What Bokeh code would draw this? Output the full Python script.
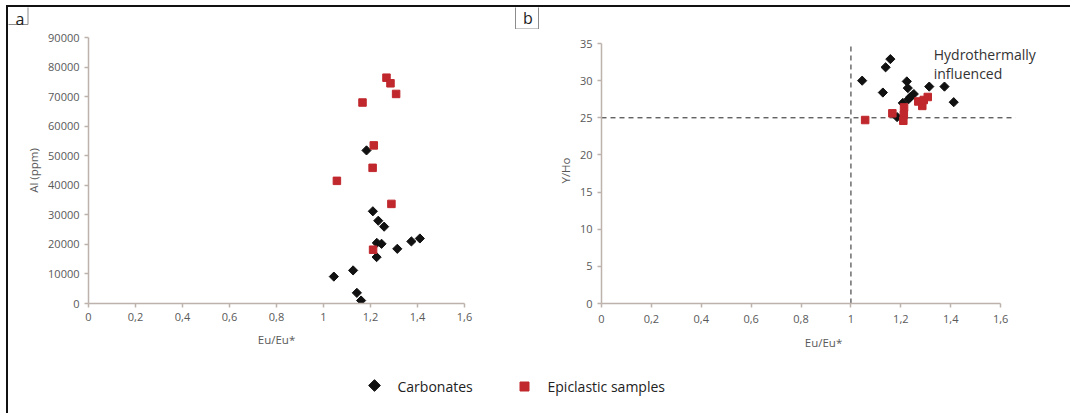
from math import pi
from bokeh.plotting import figure
from bokeh.models import FixedTicker, Label, Range1d
from bokeh.layouts import row, column
from bokeh.embed import file_html
from bokeh.resources import INLINE
from bokeh.core.properties import value

# ---------------- data ----------------
eu_ticks = [0, 0.2, 0.4, 0.6, 0.8, 1.0, 1.2, 1.4, 1.6]
eu_tick_labels = ["0", "0,2", "0,4", "0,6", "0,8", "1", "1,2", "1,4", "1,6"]
al_ticks = [0, 10000, 20000, 30000, 40000, 50000, 60000, 70000, 80000, 90000]
al_tick_labels = ["0", "10000", "20000", "30000", "40000", "50000", "60000", "70000", "80000", "90000"]
yho_ticks = [0, 5, 10, 15, 20, 25, 30, 35]
yho_tick_labels = ["0", "5", "10", "15", "20", "25", "30", "35"]

legend_labels = ["Carbonates", "Epiclastic samples"]
panel_letters = ["a", "b"]

# panel a : Al (ppm) vs Eu/Eu*
carb_a_eu = [1.183, 1.210, 1.233, 1.258, 1.227, 1.247, 1.314, 1.374, 1.410, 1.226, 1.126, 1.044, 1.142, 1.160]
carb_a_al = [51800, 31200, 28000, 26000, 20500, 20200, 18500, 21000, 22000, 15700, 11200, 9100, 3600, 1000]
epi_a_eu = [1.268, 1.285, 1.309, 1.166, 1.214, 1.209, 1.057, 1.289, 1.211]
epi_a_al = [76400, 74500, 70900, 68000, 53500, 45900, 41500, 33700, 18200]

# panel b : Y/Ho vs Eu/Eu*
carb_b_eu = [1.045, 1.158, 1.139, 1.128, 1.224, 1.228, 1.314, 1.375, 1.412, 1.252, 1.238, 1.231, 1.208, 1.185]
carb_b_yho = [30.0, 32.9, 31.8, 28.4, 29.9, 29.0, 29.2, 29.2, 27.1, 28.2, 27.8, 27.5, 27.0, 25.1]
epi_b_eu = [1.057, 1.166, 1.213, 1.212, 1.210, 1.270, 1.286, 1.292, 1.308]
epi_b_yho = [24.7, 25.6, 26.4, 25.4, 24.6, 27.2, 26.6, 27.4, 27.8]

eu_threshold = 1.0        # vertical dashed reference line
yho_threshold = 25.0      # horizontal dashed reference line
yho_max = 35.0
eu_line_end = 1.66

# ---------------- style ----------------
AXC = "#BDB3AC"
TXT = "#595959"
FONT = "Open Sans"
CARB_C = "#111111"
EPI_C = "#C0282D"
BOXC = "#8c8c8c"
TOTAL_W = 1062


def style(p):
    p.grid.visible = False
    p.outline_line_color = None
    p.background_fill_color = "white"
    p.border_fill_color = "white"
    for ax in p.axis:
        ax.axis_line_color = AXC
        ax.axis_line_width = 1.5
        ax.major_tick_line_color = AXC
        ax.major_tick_line_width = 1.5
        ax.major_tick_out = 4
        ax.major_tick_in = 0
        ax.minor_tick_out = 0
        ax.minor_tick_in = 0
        ax.major_label_text_font = FONT
        ax.major_label_text_font_size = "11px"
        ax.major_label_text_color = TXT
        ax.major_label_standoff = 5
        ax.axis_label_text_font = FONT
        ax.axis_label_text_font_size = "11.5px"
        ax.axis_label_text_font_style = "normal"
        ax.axis_label_text_color = TXT


def blank(p):
    p.grid.visible = False
    p.outline_line_color = None
    p.background_fill_color = "white"
    p.border_fill_color = "white"


# ---------------- top strip with panel letters ----------------
strip = figure(width=TOTAL_W, height=22, x_range=Range1d(0, TOTAL_W), y_range=Range1d(22, 0),
               min_border=0, x_axis_location=None, y_axis_location=None,
               toolbar_location=None, output_backend="svg")
blank(strip)
strip.quad(left=[-1, 507], right=[19.5, 530], top=[-1, -1], bottom=[17, 21.5],
           fill_color="white", line_color=BOXC, line_width=1)
strip.text(x=[11.5, 519.5], y=[11.0, 10.0], text=panel_letters, text_align="center",
           text_baseline="middle", text_font=value(FONT), text_font_size="16px",
           text_color="#222222")

# ---------------- panel a ----------------
fa = figure(width=505, height=326, x_range=Range1d(0, 1.6), y_range=Range1d(0, 90000),
            min_border_left=80, min_border_right=49, min_border_top=8, min_border_bottom=52,
            toolbar_location=None, output_backend="svg")
style(fa)
fa.xaxis.ticker = FixedTicker(ticks=eu_ticks)
fa.xaxis.major_label_overrides = dict(zip(eu_ticks, eu_tick_labels))
fa.xaxis.bounds = (0, 1.6)
fa.yaxis.ticker = FixedTicker(ticks=al_ticks)
fa.yaxis.major_label_overrides = dict(zip(al_ticks, al_tick_labels))
fa.xaxis.axis_label = "Eu/Eu*"
fa.yaxis.axis_label = "Al (ppm)"
fa.xaxis.axis_label_standoff = 8
fa.yaxis.axis_label_standoff = 4
fa.scatter(carb_a_eu, carb_a_al, marker="square", angle=pi / 4, size=6.5, color=CARB_C)
fa.scatter(epi_a_eu, epi_a_al, marker="square", size=7.5, color=EPI_C)

# ---------------- panel b ----------------
fb = figure(width=TOTAL_W - 505, height=326, x_range=Range1d(0, 1.78), y_range=Range1d(0, 35.81),
            min_border_left=88, min_border_right=25, min_border_top=8, min_border_bottom=52,
            toolbar_location=None, output_backend="svg")
style(fb)
fb.xaxis.ticker = FixedTicker(ticks=eu_ticks)
fb.xaxis.major_label_overrides = dict(zip(eu_ticks, eu_tick_labels))
fb.xaxis.bounds = (0, 1.6)
fb.yaxis.ticker = FixedTicker(ticks=yho_ticks)
fb.yaxis.major_label_overrides = dict(zip(yho_ticks, yho_tick_labels))
fb.yaxis.bounds = (0, yho_max)
fb.xaxis.axis_label = "Eu/Eu*"
fb.yaxis.axis_label = "Y/Ho"
fb.xaxis.major_label_standoff = 7
fb.xaxis.axis_label_standoff = 9
fb.yaxis.axis_label_standoff = 4
fb.line([eu_threshold, eu_threshold], [0, yho_max], line_color="#222222",
        line_width=1, line_dash="5 4")
fb.line([0, eu_line_end], [yho_threshold, yho_threshold], line_color="#222222",
        line_width=1, line_dash="5 4")
fb.scatter(carb_b_eu, carb_b_yho, marker="square", angle=pi / 4, size=6.5, color=CARB_C)
fb.scatter(epi_b_eu, epi_b_yho, marker="square", size=7.5, color=EPI_C)
fb.add_layout(Label(x=1.332, y=34.8, text="Hydrothermally\ninfluenced", text_align="left",
                    text_baseline="top", text_font=FONT, text_font_size="14px",
                    text_color="#333333", text_line_height=1.0))

# ---------------- legend strip ----------------
leg = figure(width=TOTAL_W, height=58, x_range=Range1d(0, TOTAL_W), y_range=Range1d(58, 0),
             min_border=0, x_axis_location=None, y_axis_location=None,
             toolbar_location=None, output_backend="svg")
blank(leg)
leg.scatter(x=[366], y=[30], marker="square", angle=pi / 4, size=8.3, color=CARB_C)
leg.scatter(x=[516], y=[31], marker="square", size=9, color=EPI_C)
leg.text(x=[389, 539], y=[31, 31], text=legend_labels, text_align="left",
         text_baseline="middle", text_font=value(FONT), text_font_size="14px",
         text_color="#222222")

layout = column(strip, row(fa, fb), leg,
                styles={"border-left": "2px solid #111111", "border-top": "2px solid #111111",
                        "margin-left": "6px", "margin-top": "5px"})

open("out.html", "w").write(file_html(layout, INLINE))
